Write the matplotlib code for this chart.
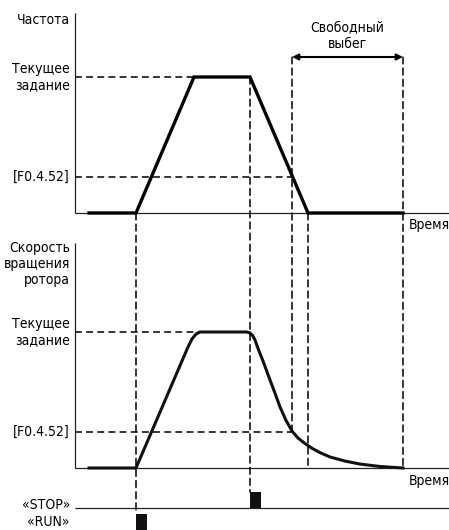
import matplotlib
matplotlib.use("Agg")
import matplotlib.pyplot as plt
from matplotlib.patches import ConnectionPatch

plt.rcParams['font.family'] = ['DejaVu Sans']
plt.rcParams['font.stretch'] = 'condensed'
plt.rcParams['font.size'] = 10

# ключевые моменты времени (усл. ед.)
t_start = 1.4
t_run = 6.1
t_acc_end = 11.9
t_stop = 17.5
t_f452 = 21.7
t_zero = 23.3
t_coast_end = 32.8
t_axis_end = 37.4

# уровни (доля от текущего задания)
level_set = 1.0
level_f452 = 0.265
level_arrow = 1.147

# выходная частота
freq_t = [t_start, t_run, t_acc_end, t_stop, t_zero, t_coast_end]
freq_v = [0, 0, level_set, level_set, 0, 0]

# скорость вращения ротора (выбег после команды STOP)
speed_t = [1.4, 6.1, 11.3, 11.7, 12.1, 12.5, 17.2, 17.5, 17.8, 18.0, 18.4, 18.8,
           19.5, 20.0, 20.5, 21.1, 21.7, 22.3, 23.0, 23.7, 24.5, 25.5, 27.0,
           28.5, 30.5, 32.8]
speed_v = [0, 0, 0.890, 0.949, 0.985, 1.0, 1.0, 0.993, 0.970, 0.941, 0.860, 0.787,
           0.647, 0.550, 0.449, 0.350, 0.272, 0.220, 0.180, 0.145, 0.113, 0.081,
           0.051, 0.029, 0.011, 0]

# команды управления
run_pulse = (t_run, -0.375, -1.0)    # время, низ, высота
stop_pulse = (t_stop, 0.0, 1.0)
pulse_width = 1.1

fig = plt.figure(figsize=(4.49, 5.30), dpi=100)
ax_f = fig.add_axes([0, 0.5623, 1, 0.4377])
ax_s = fig.add_axes([0, 0.07547, 1, 0.4868])
ax_c = fig.add_axes([0, 0, 1, 0.07547])

xlim = (-7.5, t_axis_end)
for ax in (ax_f, ax_s, ax_c):
    ax.set_xlim(*xlim)
    ax.set_axis_off()
ax_f.set_ylim(-0.1397, 1.5662)
ax_s.set_ylim(-0.1618, 1.7353)
ax_c.set_ylim(-1.375, 1.125)

axis_kw = dict(color='#222222', lw=0.9, solid_capstyle='butt')
dash = (0, (4.5, 2.8))
dash_kw = dict(color='black', lw=1.1, linestyle=dash)

# оси
ax_f.plot([0, 0], [0, 1.47], **axis_kw)
ax_f.plot([0, t_axis_end], [0, 0], **axis_kw)
ax_s.plot([0, 0], [0, 1.655], **axis_kw)
ax_s.plot([0, t_axis_end], [0, 0], **axis_kw)
ax_c.plot([0, t_axis_end], [0, 0], **axis_kw)

# горизонтальные уровни
ax_f.plot([0, t_acc_end], [level_set] * 2, **dash_kw)
ax_f.plot([0, t_f452], [level_f452] * 2, **dash_kw)
ax_s.plot([0, 12.5], [level_set] * 2, **dash_kw)
ax_s.plot([0, t_f452], [level_f452] * 2, **dash_kw)

# вертикальные линии через все графики
def vline(t, ax_a, ya, ax_b, yb):
    con = ConnectionPatch(xyA=(t, ya), coordsA=ax_a.transData,
                          xyB=(t, yb), coordsB=ax_b.transData,
                          arrowstyle='-', shrinkA=0, shrinkB=0, **dash_kw)
    fig.add_artist(con)

vline(t_run, ax_f, 0, ax_c, run_pulse[1])
vline(t_stop, ax_f, level_set, ax_c, stop_pulse[2])
vline(t_f452, ax_f, level_arrow, ax_s, level_f452)
vline(t_zero, ax_f, 0, ax_s, 0)
vline(t_coast_end, ax_f, level_arrow, ax_s, 0)

# кривые
ax_f.plot(freq_t, freq_v, color='black', lw=2.4, solid_joinstyle='miter')
ax_s.plot(speed_t, speed_v, color='#111111', lw=2.2, solid_joinstyle='round')

# импульсы RUN / STOP
for t, bottom, h in (run_pulse, stop_pulse):
    ax_c.bar(t, h, bottom=bottom, width=pulse_width, align='edge',
             color='#111111', clip_on=False)

# выбег
ax_f.annotate('', xy=(t_coast_end, level_arrow), xytext=(t_f452, level_arrow),
              arrowprops=dict(arrowstyle='<|-|>', lw=1.5, color='black',
                              mutation_scale=9, shrinkA=0, shrinkB=0))
ax_f.text((t_f452 + t_coast_end) / 2, 1.30, 'Свободный\nвыбег',
          ha='center', va='center', linespacing=1.15)

# подписи
lx = -0.5
ax_f.text(lx, 1.42, 'Частота', ha='right', va='center')
ax_f.text(lx, level_set, 'Текущее\nзадание', ha='right', va='center', linespacing=1.15)
ax_f.text(lx, level_f452, '[F0.4.52]', ha='right', va='center')
ax_f.text(33.4, -0.088, 'Время', ha='left', va='center')

ax_s.text(lx, 1.50, 'Скорость\nвращения\nротора', ha='right', va='center', linespacing=1.2)
ax_s.text(lx, level_set, 'Текущее\nзадание', ha='right', va='center', linespacing=1.15)
ax_s.text(lx, level_f452, '[F0.4.52]', ha='right', va='center')
ax_s.text(33.4, -0.096, 'Время', ha='left', va='center')

ax_c.text(lx, 0.19, '«STOP»', ha='right', va='center')
ax_c.text(lx, -0.88, '«RUN»', ha='right', va='center')

fig.savefig('out.png', dpi=100)
